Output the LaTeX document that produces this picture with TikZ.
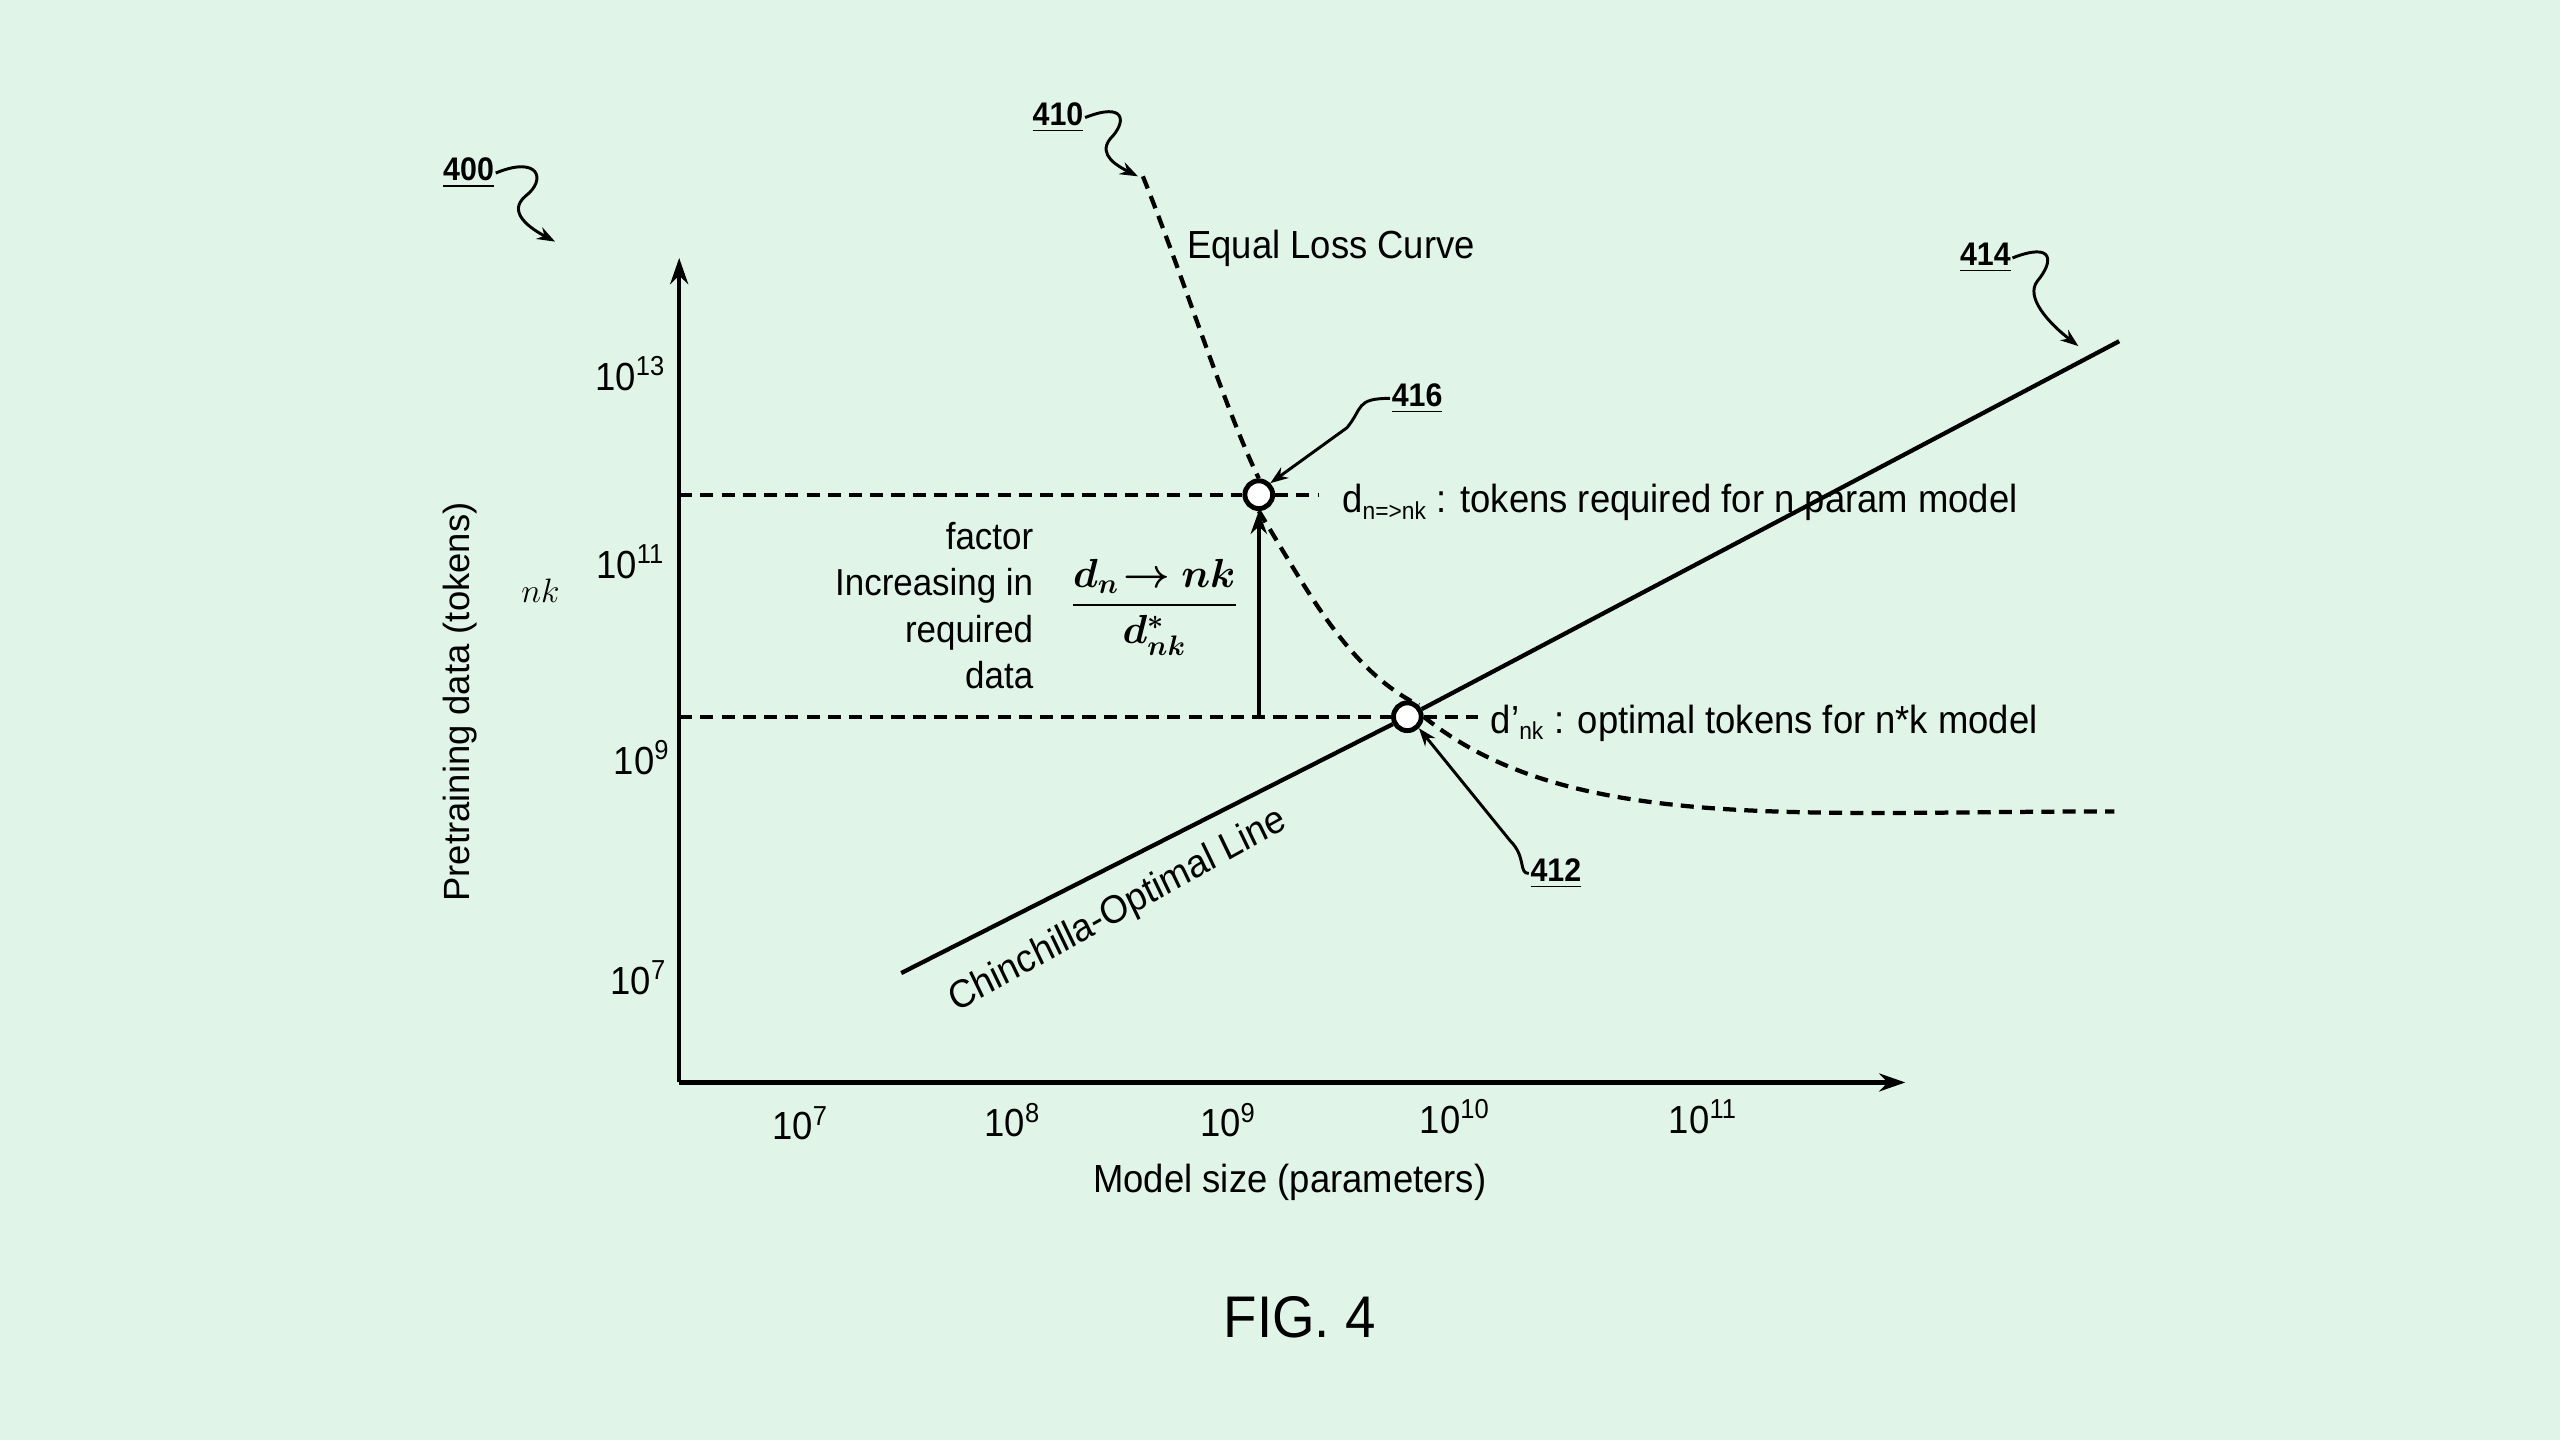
\documentclass[tikz,border=0pt]{standalone}
\usepackage{amsmath,bm}
\usepackage{fontspec}
\setmainfont{Liberation Sans}
\usetikzlibrary{arrows.meta}
\definecolor{bg}{HTML}{E0F5E7}
\begin{document}
\begin{tikzpicture}[x=1pt,y=-1pt,
  txt/.style={font=\fontsize{24}{28}\selectfont, inner sep=0pt, xscale=0.93},
  refl/.style={font=\fontsize{20}{24}\selectfont\bfseries, inner sep=1pt, xscale=0.93},
  dsh/.style={line width=2.6pt, dash pattern=on 8pt off 5pt},
  ln/.style={line width=2.6pt},
  arr/.style={line width=1.8pt, -{Stealth[length=11pt,width=8pt]}},
  pt/.style={circle, draw, line width=3pt, fill=white, minimum size=17pt, inner sep=0pt}]
\fill[bg] (0,0) rectangle (1568,882);
\useasboundingbox (0,0) rectangle (1568,882);
% axes
\coordinate (O) at (416,663);
\coordinate (Ytop) at (416,158);
\coordinate (Xend) at (1167,663);
\draw[ln,-{Stealth[length=16pt,width=11pt]}] (O) -- (Ytop);
\draw[ln,-{Stealth[length=16pt,width=11pt]}] (O) -- (Xend);
% tick labels
\node[txt] (x7) at (490,688) {10\textsuperscript{7}};
\node[txt] (x8) at (620,686) {10\textsuperscript{8}};
\node[txt] (x9) at (752,686) {10\textsuperscript{9}};
\node[txt] (x10) at (891,684) {10\textsuperscript{10}};
\node[txt] (x11) at (1043,684) {10\textsuperscript{11}};
\node[txt] (y13) at (386,229) {10\textsuperscript{13}};
\node[txt] (y11) at (386,344) {10\textsuperscript{11}};
\node[txt] (y9) at (393,464) {10\textsuperscript{9}};
\node[txt] (y7) at (391,599) {10\textsuperscript{7}};
\node[inner sep=0pt,font=\fontsize{22}{26}\selectfont] (nk) at (331,362) {$nk$};
\node[txt, xscale=1, yscale=0.93, rotate=90] (ylab) at (282,430) {Pretraining data (tokens)};
\node[txt] (xlab) at (790,724) {Model size (parameters)};
\node[inner sep=0pt,font=\fontsize{36}{40}\selectfont, xscale=0.93] (fig) at (796,807) {FIG. 4};
% points
\node[pt] (p416) at (771,303) {};
\node[pt] (p412) at (862,439) {};
% chinchilla line
\coordinate (c1) at (552,596);
\coordinate (c2) at (1298,209);
\draw[ln] (c1) -- (p412) -- (c2);
\node[txt, rotate=27.4] (chl) at (685,558) {Chinchilla-Optimal Line};
% dashed horizontals
\coordinate (h1a) at (416,303); \coordinate (h1b) at (808,303);
\coordinate (h2a) at (416,439); \coordinate (h2b) at (905,439);
\draw[dsh] (h1a) -- (p416.west); \draw[dsh] (p416.east) -- (h1b);
\draw[dsh] (h2a) -- (p412.west); \draw[dsh] (p412.east) -- (h2b);
% vertical arrow
\coordinate (va) at (771,439);
\draw[ln,-{Stealth[length=14pt,width=10pt]}] (va) -- (p416.south);
% equal loss curve
\coordinate (e0) at (700,108);
\coordinate (e1) at (1295,497);
\draw[dsh] (e0) .. controls (725,170) and (750,250) .. (p416.north);
\draw[dsh] (p416.south) .. controls (800,360) and (825,410) .. (p412.north east);
\draw[dsh] (p412.east) .. controls (960,510) and (1100,497) .. (e1);
\node[txt, anchor=west] (elc) at (727,152) {Equal Loss Curve};
% labels
\node[txt, anchor=west] (dn) at (822,308) {d\textsubscript{\fontsize{15}{17}\selectfont n=>nk} : tokens required for n param model};
\node[txt, anchor=west] (dp) at (913,443) {d'\textsubscript{\fontsize{15}{17}\selectfont nk} : optimal tokens for n*k model};
\node[txt, anchor=east, align=right, font=\fontsize{23}{28.5}\selectfont] (fac) at (633,371) {factor\\Increasing in\\required\\data};
\node[inner sep=0pt, font=\fontsize{26}{30}\selectfont] (frac) at (707,372) {$\displaystyle\frac{\bm{d_n\!\rightarrow nk}}{\bm{d^*_{nk}}}$};
% reference numerals
\node[refl] (r400) at (287,106) {\underline{400}};
\node[refl] (r410) at (648,72) {\underline{410}};
\node[refl] (r414) at (1216,158) {\underline{414}};
\node[refl] (r416) at (868,244) {\underline{416}};
\node[refl] (r412) at (953,535) {\underline{412}};
\coordinate (t400) at (340,148);
\coordinate (t410) at (697,108);
\coordinate (t414) at (1273,212);
\draw[arr] (r400.east) .. controls (330,95) and (335,110) .. (322,120) .. controls (310,130) and (325,140) .. (t400);
\draw[arr] (r410.east) .. controls (690,62) and (690,75) .. (680,85) .. controls (672,95) and (685,102) .. (t410);
\draw[arr] (r414.east) .. controls (1258,148) and (1258,160) .. (1248,172) .. controls (1240,182) and (1255,198) .. (t414);
\draw[arr] (r416.west) .. controls (830,244) and (835,250) .. (825,262) -- (p416.north east);
\draw[arr] (r412.west) .. controls (930,535) and (935,525) .. (925,515) -- (p412.south east);
\end{tikzpicture}
\end{document}
